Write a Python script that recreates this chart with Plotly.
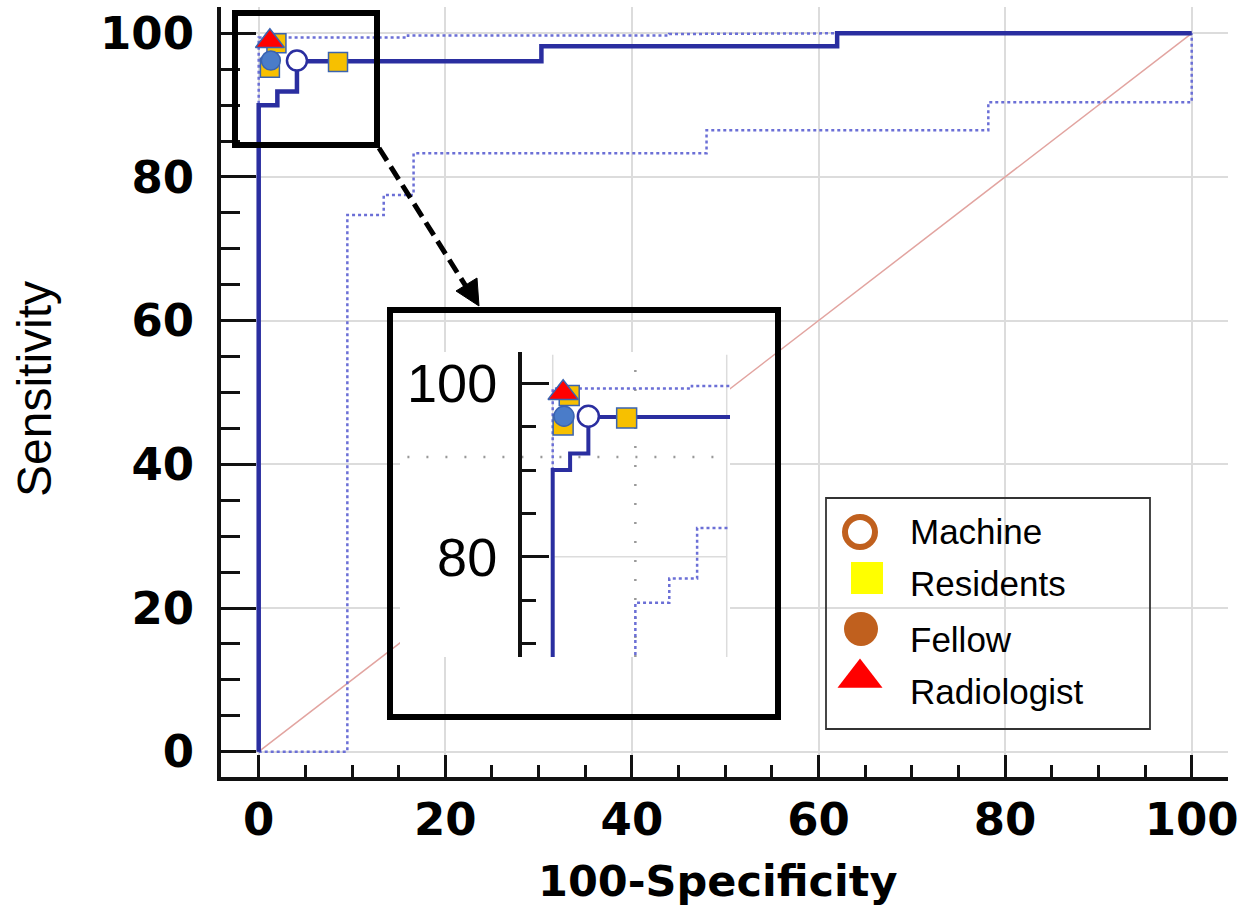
import plotly.graph_objects as go

# ---------------- data ----------------
roc_x = [0, 0, 2.0, 2.0, 4.1, 4.1, 30.3, 30.3, 62.0, 62.0, 100]
roc_y = [0, 90.0, 90.0, 91.9, 91.9, 96.1, 96.1, 98.2, 98.2, 100, 100]

ci_upper_x = [0, 0, 16.0, 16.0, 44.0, 44.0, 62.0, 100]
ci_upper_y = [0, 99.4, 99.4, 99.7, 99.7, 99.9, 100, 100]

ci_lower_x = [0, 9.5, 9.5, 13.4, 13.4, 16.6, 16.6, 48.0, 48.0, 78.2, 78.2, 100, 100]
ci_lower_y = [0, 0, 74.7, 74.7, 77.5, 77.5, 83.3, 83.3, 86.5, 86.5, 90.4, 90.4, 100]

ref_x = [0, 100]
ref_y = [0, 100]

machine_x, machine_y = [4.1], [96.2]
residents_x, residents_y = [1.9, 1.2, 8.5], [98.6, 95.2, 96.0]
fellow_x, fellow_y = [1.3], [96.2]
radiologist_x, radiologist_y = [1.2], [98.9]

legend_labels = ["Machine", "Residents", "Fellow", "Radiologist"]
x_tick_vals = [0, 20, 40, 60, 80, 100]
y_tick_vals = [0, 20, 40, 60, 80, 100]
inset_tick_vals = [80, 100]
inset_minor_vals = [70, 75, 85, 90, 95]

# ---------------- layout geometry (pixels) ----------------
W, H = 1257, 912
PL, PR, PT, PB = 221, 1228, 7, 777
X0PX, XS = 258.7, 9.33
Y0PX, YS = 751.7, 7.184


def dx(px):
    return (px - X0PX) / XS


def dy(py):
    return (Y0PX - py) / YS


def fx(px):
    return (px - PL) / (PR - PL)


def fy(py):
    return (PB - py) / (PB - PT)


# inset geometry
IL, IR, IT, IB = 400, 730, 352, 657
I0X, IXS = 552.7, 8.7
I100Y, IYS = 383.3, 8.67
IAXPX = 520
x2_range = [(IL - I0X) / IXS, (IR - I0X) / IXS]
y2_range = [100 - (IB - I100Y) / IYS, 100 + (I100Y - IT) / IYS]

ROC_COL = "#2A2EA0"
CI_COL = "#6B6FD6"
REF_COL = "#E2A4A0"
OUT_COL = "#3A63B0"
GRID = "#DCDCDC"

fig = go.Figure()


def add_curves(xa, ya, lw, msc):
    fig.add_trace(go.Scatter(x=ref_x, y=ref_y, mode="lines", xaxis=xa, yaxis=ya,
                             line=dict(color=REF_COL, width=1.5), showlegend=False, hoverinfo="skip"))
    fig.add_trace(go.Scatter(x=ci_lower_x, y=ci_lower_y, mode="lines", xaxis=xa, yaxis=ya,
                             line=dict(color=CI_COL, width=2.5, dash="dot"), showlegend=False))
    fig.add_trace(go.Scatter(x=ci_upper_x, y=ci_upper_y, mode="lines", xaxis=xa, yaxis=ya,
                             line=dict(color=CI_COL, width=2.5, dash="dot"), showlegend=False))
    fig.add_trace(go.Scatter(x=roc_x, y=roc_y, mode="lines", xaxis=xa, yaxis=ya,
                             line=dict(color=ROC_COL, width=lw), showlegend=False))
    fig.add_trace(go.Scatter(x=residents_x, y=residents_y, mode="markers", xaxis=xa, yaxis=ya,
                             marker=dict(symbol="square", size=19 * msc, color="#F7C000",
                                         line=dict(color=OUT_COL, width=1.5)), showlegend=False))
    fig.add_trace(go.Scatter(x=fellow_x, y=fellow_y, mode="markers", xaxis=xa, yaxis=ya,
                             marker=dict(symbol="circle", size=19 * msc, color="#4A7CC9",
                                         line=dict(color=OUT_COL, width=1.5)), showlegend=False))
    fig.add_trace(go.Scatter(x=machine_x, y=machine_y, mode="markers", xaxis=xa, yaxis=ya,
                             marker=dict(symbol="circle", size=20 * msc, color="white",
                                         line=dict(color=ROC_COL, width=2.5)), showlegend=False))
    fig.add_trace(go.Scatter(x=radiologist_x, y=radiologist_y, mode="markers", xaxis=xa, yaxis=ya,
                             marker=dict(symbol="triangle-up", size=25 * msc, color="#FF0000",
                                         line=dict(color=OUT_COL, width=1.5)), showlegend=False))


add_curves("x", "y", 4.5, 1.0)

# legend markers (drawn in the main axes at legend-box positions)
leg_px = [860, 867, 861, 860]
leg_py = [532, 578, 629, 678]
leg_sym = ["circle-open", "square", "circle", "triangle-up"]
leg_col = ["#C0601E", "#FFFF00", "#C0601E", "#FF0000"]
leg_size = [30, 32, 34, 39]
for i in range(4):
    fig.add_trace(go.Scatter(
        x=[dx(leg_px[i])], y=[dy(leg_py[i])], mode="markers", xaxis="x", yaxis="y",
        marker=dict(symbol=leg_sym[i], size=leg_size[i], color=leg_col[i],
                    line=dict(color=leg_col[i], width=6 if i == 0 else 0)),
        showlegend=False, cliponaxis=False))

add_curves("x2", "y2", 4.0, 1.05)

annotations = []
leg_text_py = [531, 583, 639, 691]
for i, lab in enumerate(legend_labels):
    annotations.append(dict(text=lab, xref="paper", yref="paper", x=fx(908), y=fy(leg_text_py[i]),
                            xanchor="left", yanchor="middle", showarrow=False,
                            font=dict(family="Liberation Sans, Arial", size=35, color="black")))

annotations.append(dict(text="100-Specificity", xref="paper", yref="paper", x=fx(717), y=fy(881),
                        xanchor="center", yanchor="middle", showarrow=False,
                        font=dict(family="DejaVu Sans", size=43, color="black", weight="bold")))
annotations.append(dict(text="Sensitivity", xref="paper", yref="paper", x=fx(34), y=fy(389),
                        xanchor="center", yanchor="middle", showarrow=False, textangle=-90,
                        font=dict(family="Liberation Sans, Arial", size=48, color="black")))

shapes = []
# inset gridlines
for gx in [0, 20]:
    shapes.append(dict(type="line", xref="x2", yref="y2", x0=gx, x1=gx, y0=y2_range[0], y1=103.3,
                       line=dict(color=GRID, width=1.5), layer="below"))
shapes.append(dict(type="line", xref="x2", yref="y2", x0=0, x1=20, y0=80, y1=80,
                   line=dict(color=GRID, width=1.5), layer="below"))
shapes.append(dict(type="line", xref="x2", yref="y2", x0=9.5, x1=9.5, y0=y2_range[0], y1=103.5,
                   line=dict(color="#999999", width=2.5, dash="2px,17px"), layer="below"))
shapes.append(dict(type="line", xref="x2", yref="y2", x0=-16.7, x1=19.2, y0=91.5, y1=91.5,
                   line=dict(color="#999999", width=2.5, dash="2px,17px"), layer="below"))

# zoom boxes
shapes.append(dict(type="rect", xref="paper", yref="paper", x0=fx(235), x1=fx(377), y0=fy(145), y1=fy(13),
                   line=dict(color="black", width=6), layer="above"))
shapes.append(dict(type="rect", xref="paper", yref="paper", x0=fx(390), x1=fx(778), y0=fy(717), y1=fy(310),
                   line=dict(color="black", width=6), layer="above"))
# dashed arrow
shapes.append(dict(type="line", xref="paper", yref="paper", x0=fx(379), y0=fy(148), x1=fx(467), y1=fy(288),
                   line=dict(color="black", width=5, dash="15px,7px"), layer="above"))
tip = (479, 306)
b1 = (456, 291)
b2 = (477, 278)
path = "M {:.5f},{:.5f} L {:.5f},{:.5f} L {:.5f},{:.5f} Z".format(
    fx(tip[0]), fy(tip[1]), fx(b1[0]), fy(b1[1]), fx(b2[0]), fy(b2[1]))
shapes.append(dict(type="path", xref="paper", yref="paper", path=path,
                   fillcolor="black", line=dict(color="black", width=1), layer="above"))
# legend box
shapes.append(dict(type="rect", xref="paper", yref="paper", x0=fx(826), x1=fx(1150), y0=fy(729), y1=fy(498),
                   line=dict(color="#333333", width=1.8), layer="above"))

tickfont = dict(family="DejaVu Sans", size=45, color="black", weight="bold")

fig.update_layout(
    width=W, height=H,
    margin=dict(l=PL, r=W - PR, t=PT, b=H - PB),
    paper_bgcolor="white", plot_bgcolor="white",
    showlegend=False,
    annotations=annotations,
    shapes=shapes,
    xaxis=dict(range=[dx(PL), dx(PR)], domain=[0, 1], tickmode="array", tickvals=x_tick_vals,
               showgrid=True, gridcolor=GRID, gridwidth=1.5, zeroline=False,
               showline=True, linecolor="#111111", linewidth=4,
               ticks="inside", ticklen=22, tickwidth=3, tickcolor="#111111",
               minor=dict(dtick=5, tick0=0, ticks="inside", ticklen=12, tickwidth=3,
                          tickcolor="#111111", showgrid=False),
               tickfont=tickfont, ticklabelstandoff=0),
    yaxis=dict(range=[dy(PB), dy(PT)], domain=[0, 1], tickmode="array", tickvals=y_tick_vals,
               showgrid=True, gridcolor=GRID, gridwidth=1.5, zeroline=False,
               showline=True, linecolor="#111111", linewidth=4,
               ticks="inside", ticklen=35, tickwidth=3, tickcolor="#111111",
               minor=dict(dtick=5, tick0=0, ticks="inside", ticklen=19, tickwidth=3,
                          tickcolor="#111111", showgrid=False),
               tickfont=tickfont, ticklabelstandoff=14),
    xaxis2=dict(domain=[fx(IL), fx(IR)], range=x2_range, anchor="y2",
                showgrid=False, zeroline=False, showline=False, showticklabels=False, ticks=""),
    yaxis2=dict(domain=[fy(IB), fy(IT)], range=y2_range, anchor="free", position=fx(IAXPX),
                tickmode="array", tickvals=inset_tick_vals,
                showgrid=False, zeroline=False, showline=True, linecolor="#111111", linewidth=4,
                ticks="inside", ticklen=27, tickwidth=3, tickcolor="#111111",
                minor=dict(tickmode="array", tickvals=inset_minor_vals, ticks="inside", ticklen=14,
                           tickwidth=3, tickcolor="#111111", showgrid=False),
                tickfont=dict(family="Liberation Sans, Arial", size=54, color="black"),
                ticklabelstandoff=10),
)

fig.write_html("out.html", config={"displayModeBar": False},
               post_script="document.body.style.margin='0';document.body.style.padding='0';")
